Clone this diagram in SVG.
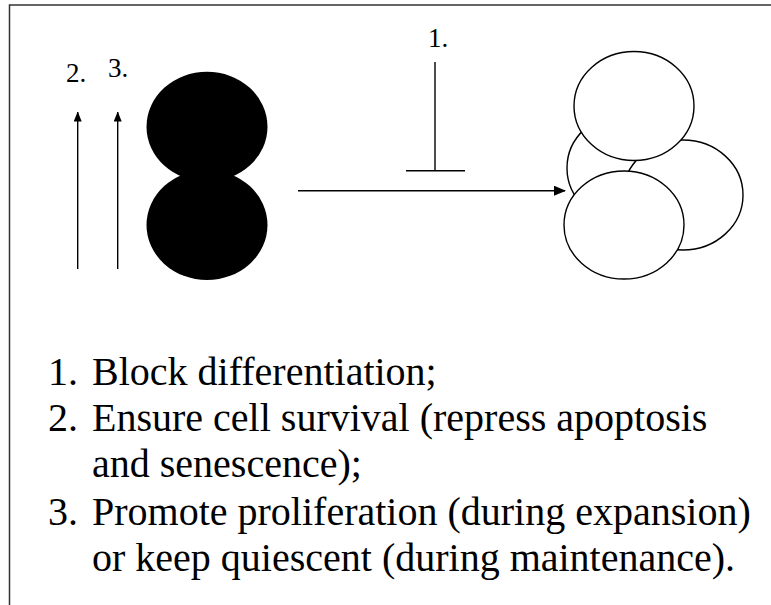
<svg xmlns="http://www.w3.org/2000/svg" width="771" height="605" viewBox="0 0 771 605">
<style>
.ln{stroke:#000;stroke-width:1.4;fill:none}
.frame{stroke:#333;stroke-width:1.5;fill:none}
.cell{fill:#fff;stroke:#000;stroke-width:1.4}
.blk{fill:#000;stroke:none}
.lbl{font-family:"Liberation Serif","Times New Roman",serif;font-size:27px;fill:#000}
.txt{font-family:"Liberation Serif","Times New Roman",serif;font-size:40px;fill:#000}
</style>
<defs>
<marker id="ah" markerWidth="12" markerHeight="10" refX="11" refY="5" orient="auto" markerUnits="userSpaceOnUse">
<path d="M0,0 L12,5 L0,10 Z" fill="#000"/>
</marker>
<marker id="ahs" markerWidth="10" markerHeight="8" refX="9.5" refY="4" orient="auto" markerUnits="userSpaceOnUse">
<path d="M0,0 L10,4 L0,8 Z" fill="#000"/>
</marker>
</defs>
<rect width="771" height="605" fill="#fff"/>
<g id="frame">
<path class="frame" d="M9.5,605 L9.5,5 L771,5"/>
</g>
<g id="stem-cell">
<ellipse class="blk" cx="207" cy="126.7" rx="60.5" ry="55"/>
<ellipse class="blk" cx="207" cy="225" rx="60.5" ry="55"/>
</g>
<g id="differentiated-cells">
<ellipse class="cell" cx="627" cy="168" rx="60" ry="55"/>
<ellipse class="cell" cx="683" cy="195" rx="60" ry="55"/>
<ellipse class="cell" cx="634" cy="106" rx="60" ry="54.5"/>
<ellipse class="cell" cx="624" cy="225" rx="60" ry="54"/>
</g>
<g id="connectors">
<line class="ln" x1="77.7" y1="269" x2="77.7" y2="112" marker-end="url(#ahs)"/>
<line class="ln" x1="117.7" y1="269" x2="117.7" y2="112" marker-end="url(#ahs)"/>
<line class="ln" x1="298" y1="190.7" x2="565" y2="190.7" marker-end="url(#ah)"/>
<line class="ln" x1="435" y1="62" x2="435" y2="170.7"/>
<line class="ln" x1="406" y1="170.7" x2="465" y2="170.7"/>
</g>
<g id="labels">
<text class="lbl" x="66" y="82">2.</text>
<text class="lbl" x="108" y="77">3.</text>
<text class="lbl" x="428" y="47">1.</text>
</g>
<g id="legend">
<text class="txt" x="48" y="385">1.</text>
<text class="txt" x="92" y="385">Block differentiation;</text>
<text class="txt" x="48" y="431">2.</text>
<text class="txt" x="92" y="431">Ensure cell survival (repress apoptosis</text>
<text class="txt" x="92" y="477">and senescence);</text>
<text class="txt" x="48" y="525">3.</text>
<text class="txt" x="92" y="525">Promote proliferation (during expansion)</text>
<text class="txt" x="92" y="571">or keep quiescent (during maintenance).</text>
</g>
</svg>
